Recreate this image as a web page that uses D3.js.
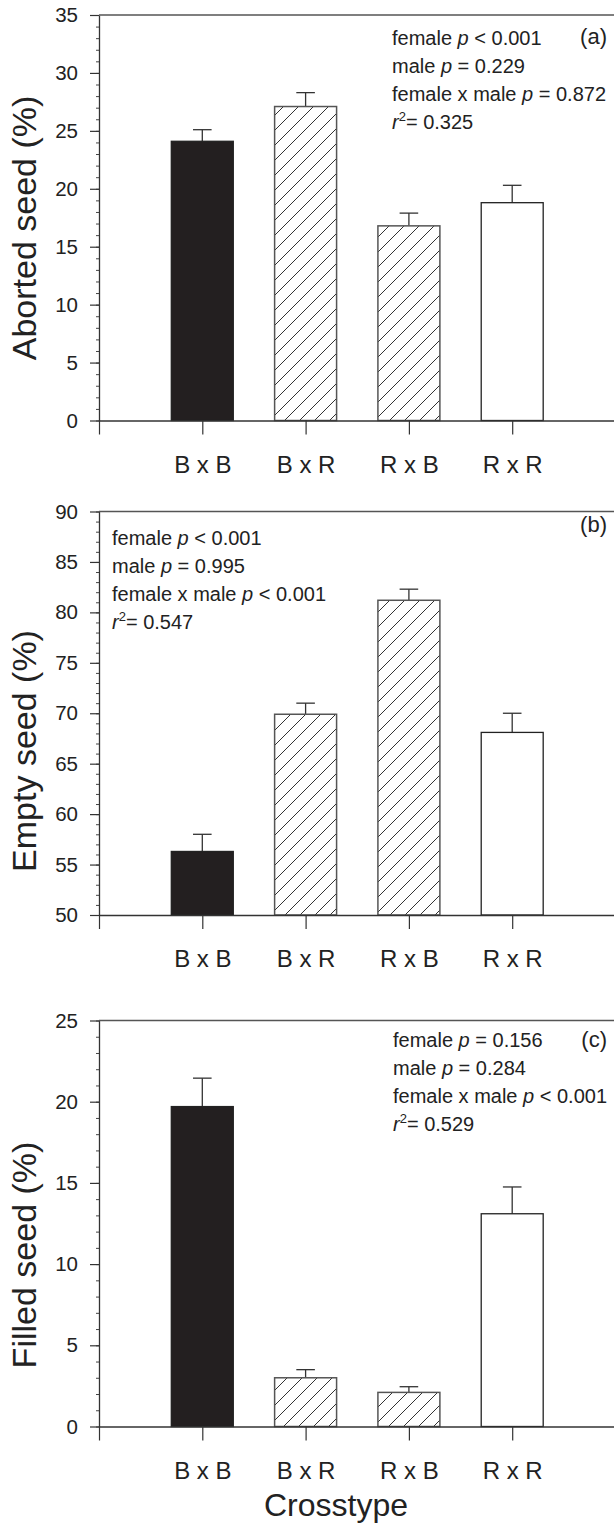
<!DOCTYPE html>
<html><head><meta charset="utf-8">
<script src="https://cdn.jsdelivr.net/npm/d3@7"></script>
<style>
html,body{margin:0;padding:0;background:#fff;}
svg text{font-family:"Liberation Sans",Arial,Helvetica,sans-serif;fill:#222;}
</style></head>
<body>
<svg id="chart" width="614" height="1526"></svg>
<script>
// ---- data ----
const categories = ["B x B", "B x R", "R x B", "R x R"];
const abortedMean = [24.1, 27.1, 16.8, 18.8];
const abortedSE   = [1.0, 1.2, 1.1, 1.5];
const emptyMean   = [56.3, 69.9, 81.2, 68.1];
const emptySE     = [1.7, 1.1, 1.1, 1.9];
const filledMean  = [19.7, 3.0, 2.1, 13.1];
const filledSE    = [1.75, 0.5, 0.35, 1.65];
const abortedTicks = [0, 5, 10, 15, 20, 25, 30, 35];
const emptyTicks   = [50, 55, 60, 65, 70, 75, 80, 85, 90];
const filledTicks  = [0, 5, 10, 15, 20, 25];
const abortedStats = [["female ", "p", " < 0.001"], ["male ", "p", " = 0.229"], ["female x male ", "p", " = 0.872"], ["r2", "0.325"]];
const emptyStats   = [["female ", "p", " < 0.001"], ["male ", "p", " = 0.995"], ["female x male ", "p", " < 0.001"], ["r2", "0.547"]];
const filledStats  = [["female ", "p", " = 0.156"], ["male ", "p", " = 0.284"], ["female x male ", "p", " < 0.001"], ["r2", "0.529"]];

const svg = d3.select("#chart");
const defs = svg.append("defs");
const pat = defs.append("pattern").attr("id", "hatch").attr("patternUnits", "userSpaceOnUse")
  .attr("width", 15).attr("height", 15);
pat.append("rect").attr("width", 15).attr("height", 15).attr("fill", "#fff");
pat.append("path").attr("d", "M-1,16 L16,-1 M-4,4 L4,-4 M11,19 L19,11")
  .attr("stroke", "#333").attr("stroke-width", 1).attr("fill", "none");

const barStyle = ["solid", "hatch", "hatch", "open"];
const x = d3.scaleLinear().domain([0, 5]).range([99, 615.5]);
const barW = x(0.6) - x(0);
const capW = x(0.18) - x(0);

const panels = [
  {top: 15, bottom: 420.5, domain: [0, 35], ticks: abortedTicks, mean: abortedMean, se: abortedSE,
   label: "Aborted seed (%)", labelY: 228, stats: abortedStats, statsX: 392, statsY: 45, tag: "(a)", tagX: 607, tagY: 44},
  {top: 511.5, bottom: 915, domain: [50, 90], ticks: emptyTicks, mean: emptyMean, se: emptySE,
   label: "Empty seed (%)", labelY: 751, stats: emptyStats, statsX: 112, statsY: 545, tag: "(b)", tagX: 607, tagY: 532},
  {top: 1020.5, bottom: 1426.5, domain: [0, 25], ticks: filledTicks, mean: filledMean, se: filledSE,
   label: "Filled seed (%)", labelY: 1255, stats: filledStats, statsX: 393, statsY: 1047, tag: "(c)", tagX: 607, tagY: 1047}
];

panels.forEach(p => {
  const g = svg.append("g");
  const y = d3.scaleLinear().domain(p.domain).range([p.bottom, p.top]);
  const minor = d3.range(p.domain[0], p.domain[1] + 0.001, 1);

  // bars
  categories.forEach((c, i) => {
    const cx = x(i + 1), v = p.mean[i], e = p.se[i];
    const st = barStyle[i];
    g.append("line").attr("x1", cx).attr("x2", cx).attr("y1", y(v)).attr("y2", y(v + e))
      .attr("stroke", "#333").attr("stroke-width", 1.3);
    g.append("line").attr("x1", cx - capW / 2).attr("x2", cx + capW / 2).attr("y1", y(v + e)).attr("y2", y(v + e))
      .attr("stroke", "#333").attr("stroke-width", 1.3);
    g.append("rect").attr("x", cx - barW / 2).attr("width", barW)
      .attr("y", y(v)).attr("height", y(p.domain[0]) - y(v))
      .attr("fill", st === "solid" ? "#231f20" : st === "hatch" ? "url(#hatch)" : "#fff")
      .attr("stroke", st === "hatch" ? "#555" : "#222").attr("stroke-width", st === "hatch" ? 1.5 : 1.3);
  });

  // minor y ticks
  g.append("g").attr("transform", `translate(${x(0)},0)`)
    .call(d3.axisLeft(y).tickValues(minor).tickSize(3).tickFormat(""))
    .call(a => a.select(".domain").remove())
    .call(a => a.selectAll("line").attr("stroke", "#444"));
  // major y axis
  g.append("g").attr("transform", `translate(${x(0)},0)`)
    .call(d3.axisLeft(y).tickValues(p.ticks).tickSize(9).tickSizeOuter(0).tickPadding(12).tickFormat(d3.format("d")))
    .call(a => a.select(".domain").attr("stroke", "#333").attr("stroke-width", 1.3))
    .call(a => a.selectAll("line").attr("stroke", "#333").attr("stroke-width", 1.2))
    .call(a => a.selectAll("text").attr("font-size", 20.5).attr("font-family", "Liberation Sans, Arial, sans-serif").attr("fill", "#222"));
  // x axis
  g.append("g").attr("transform", `translate(0,${p.bottom})`)
    .call(d3.axisBottom(x).tickValues([0, 1, 2, 3, 4]).tickSize(14).tickSizeOuter(0).tickPadding(21)
      .tickFormat(d => d === 0 ? "" : categories[d - 1]))
    .call(a => a.select(".domain").attr("stroke", "#333").attr("stroke-width", 1.3))
    .call(a => a.selectAll("line").attr("stroke", "#333").attr("stroke-width", 1.2))
    .call(a => a.selectAll("text").attr("font-size", 24).attr("font-family", "Liberation Sans, Arial, sans-serif").attr("fill", "#222"));
  // top frame line
  g.append("line").attr("x1", x(0)).attr("x2", x(5)).attr("y1", p.top).attr("y2", p.top)
    .attr("stroke", "#555").attr("stroke-width", 1.3);

  // y label
  g.append("text").attr("transform", `translate(36,${p.labelY}) rotate(-90)`)
    .attr("text-anchor", "middle").attr("font-size", 34).text(p.label);

  // stats
  p.stats.forEach((s, k) => {
    const t = g.append("text").attr("x", p.statsX).attr("y", p.statsY + k * 28).attr("font-size", 20);
    if (s[0] === "r2") {
      t.append("tspan").attr("font-style", "italic").text("r");
      t.append("tspan").attr("font-size", 13).attr("dy", -8).text("2");
      t.append("tspan").attr("dy", 8).text("= " + s[1]);
    } else {
      t.append("tspan").text(s[0]);
      t.append("tspan").attr("font-style", "italic").text(s[1]);
      t.append("tspan").text(s[2]);
    }
  });
  g.append("text").attr("x", p.tagX).attr("y", p.tagY).attr("text-anchor", "end").attr("font-size", 22).text(p.tag);
});

svg.append("text").attr("x", 336).attr("y", 1516).attr("text-anchor", "middle").attr("font-size", 32)
  .text("Crosstype");
</script>
</body></html>
